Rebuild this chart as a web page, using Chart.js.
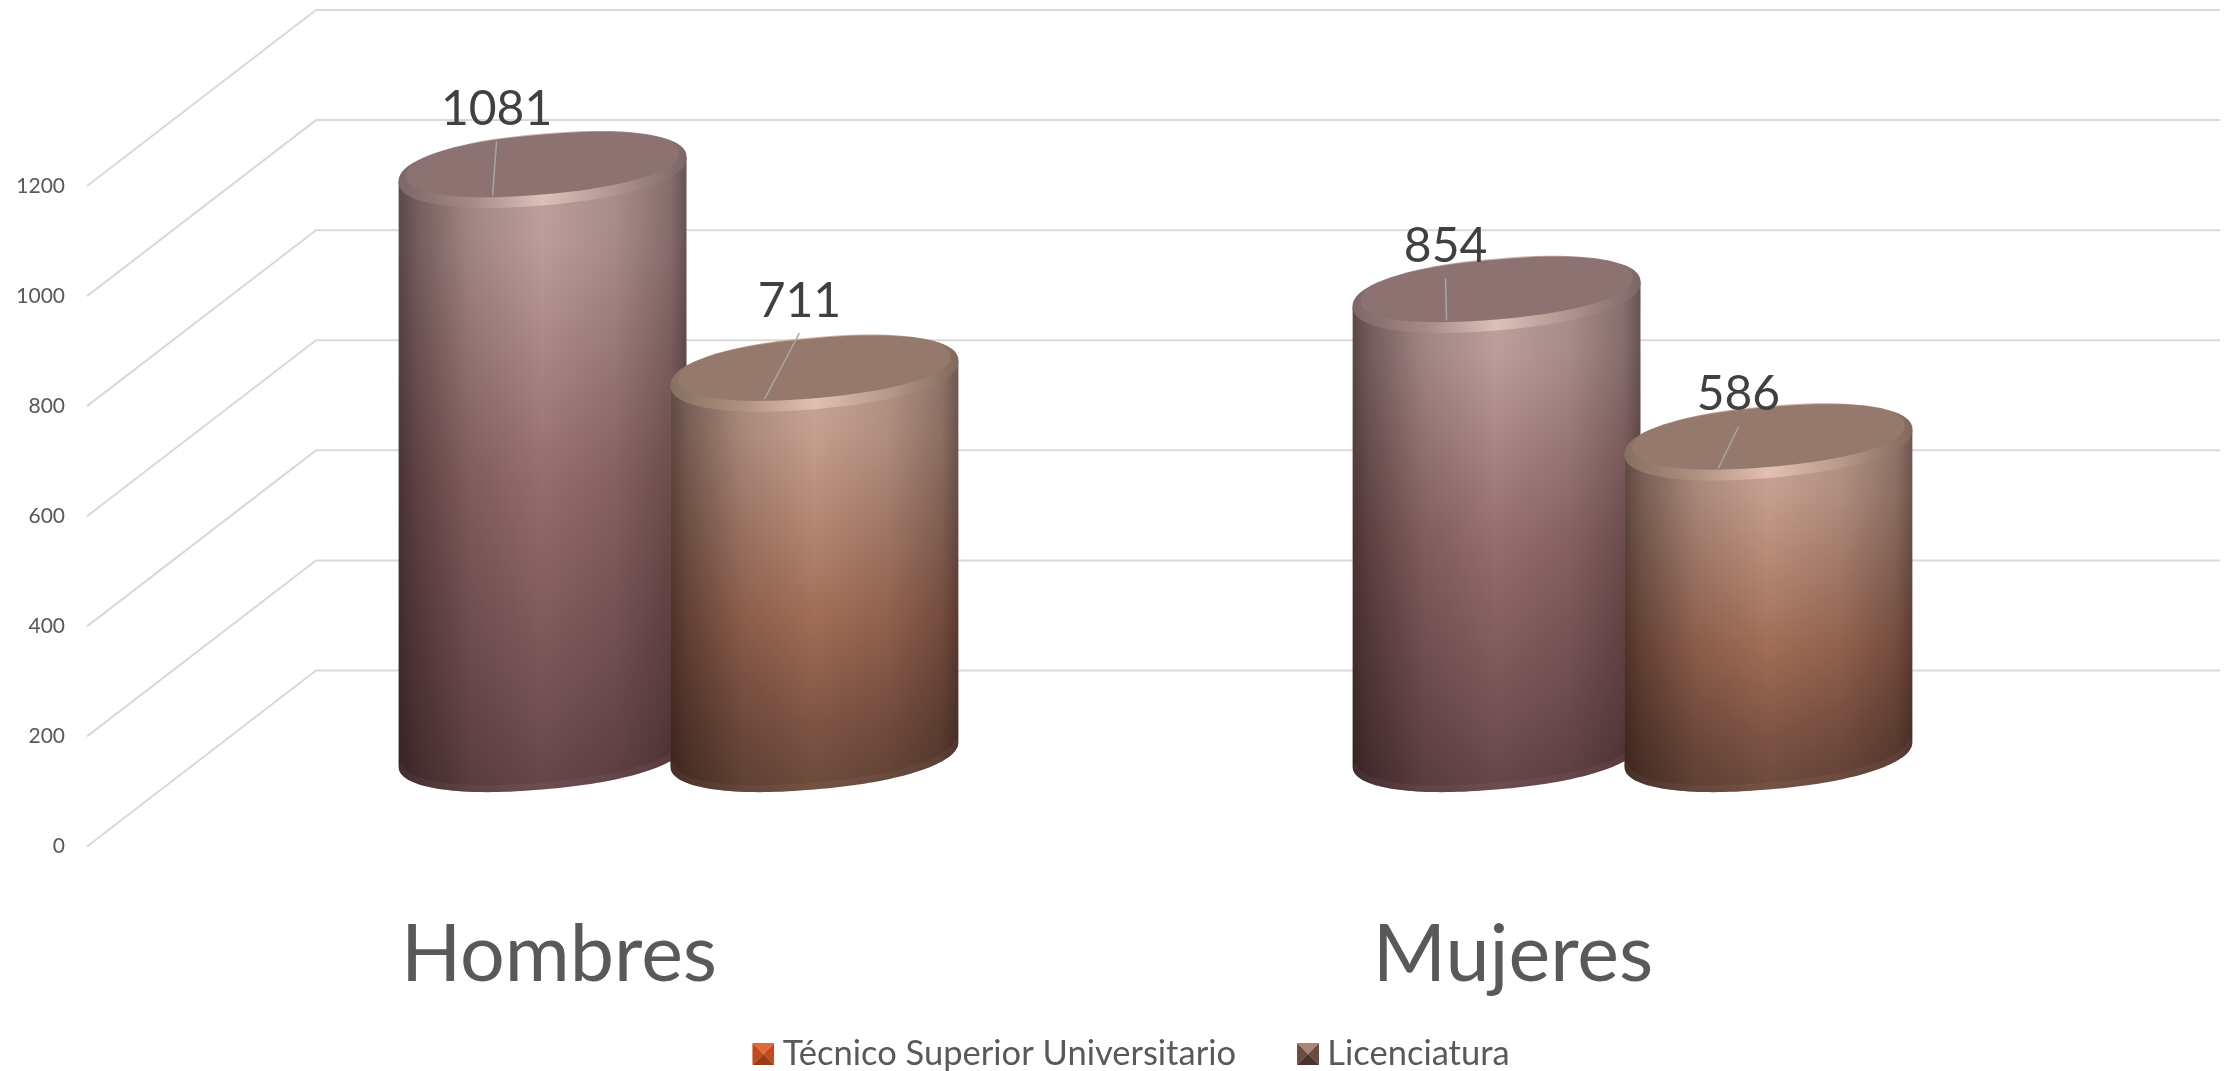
<!DOCTYPE html>
<html>
<head>
<meta charset="utf-8">
<style>
  html, body { margin: 0; padding: 0; background: #fff; }
  canvas { display: block; }
</style>
</head>
<body>
<canvas id="cylChart" width="2231" height="1071"></canvas>
<script src="https://cdn.jsdelivr.net/npm/chart.js@4/dist/chart.umd.min.js"></script>
<script>
// Data
const categories = ['Hombres', 'Mujeres'];
const seriesNames = ['Técnico Superior Universitario', 'Licenciatura'];
const tecnicoValues = [1081, 854];
const licenciaturaValues = [711, 586];
const axisMax = 1200;
const axisStep = 200;

// How far the back wall sits from the front plane
const depthX = 229;
const depthY = -176;
const wallTrim = 4;

// Cylinder shape
const capTilt = 0.085;
const capHeight = 36;
const capRoundness = 2.2;
const topInset = 6;

const cylinderLooks = [
  {
    body: [[0, '#bda09e'], [0.12, '#bb9c9a'], [0.5, '#966c6d'], [0.8, '#7a5558'], [1, '#654549']],
    face: '#8c7372',
    rim: ['#7d6665', '#a58987', '#dcc0b9', '#b0948f', '#7b6664']
  },
  {
    body: [[0, '#c9a796'], [0.15, '#c59f8d'], [0.6, '#a06c55'], [0.85, '#7d5443'], [1, '#6c4a3b']],
    face: '#95796d',
    rim: ['#85705f', '#b0917f', '#e2c0b1', '#b79a8a', '#80695b']
  }
];

// Label position against the cylinder centre, per series then per category
const labelShift = [
  [[-46, -60], [-51, -48]],
  [[-15, -72], [-30, -47]]
];
const leaderFoot = [-50, 26];

function makeSwatch(top, side, bottom) {
  const c = document.createElement('canvas');
  c.width = 74;
  c.height = 22;
  const g = c.getContext('2d');
  const x = 52, s = 22;
  const tri = function(color, pts) {
    g.fillStyle = color;
    g.beginPath();
    g.moveTo(x + pts[0][0], pts[0][1]);
    g.lineTo(x + pts[1][0], pts[1][1]);
    g.lineTo(x + pts[2][0], pts[2][1]);
    g.closePath();
    g.fill();
  };
  tri(side, [[0, 0], [s / 2, s / 2], [0, s]]);
  tri(side, [[s, 0], [s / 2, s / 2], [s, s]]);
  tri(top, [[0, 0], [s, 0], [s / 2, s / 2]]);
  tri(bottom, [[0, s], [s, s], [s / 2, s / 2]]);
  return c;
}

const swatches = [
  makeSwatch('#df6a38', '#c24a1b', '#9a3c14'),
  makeSwatch('#a98678', '#6b4b3f', '#4a332b')
];

// adds a tilted, slightly squared-off cap outline to the current path
function addCap(ctx, cx, cy, a, b, from, to) {
  const steps = 80;
  const p = 2 / capRoundness;
  for (let i = 0; i <= steps; i++) {
    const t = from + (to - from) * i / steps;
    const c = Math.cos(t), s = Math.sin(t);
    const x = a * Math.sign(c) * Math.pow(Math.abs(c), p);
    const y = b * Math.sign(s) * Math.pow(Math.abs(s), p);
    ctx.lineTo(cx + x, cy + y - capTilt * x);
  }
}

function fillCap(ctx, cx, cy, a, b, color) {
  ctx.beginPath();
  addCap(ctx, cx, cy, a, b, 0, Math.PI * 2);
  ctx.closePath();
  ctx.fillStyle = color;
  ctx.fill();
}

function drawCylinder(ctx, cx, topY, baseY, a, look) {
  const tilt = capTilt * a;

  ctx.save();
  ctx.beginPath();
  ctx.moveTo(cx - a, topY + tilt);
  addCap(ctx, cx, baseY, a, capHeight, Math.PI, 0);
  ctx.lineTo(cx + a, topY - tilt);
  ctx.closePath();
  ctx.clip();

  // body colour runs down the height
  const down = ctx.createLinearGradient(0, topY, 0, baseY + capHeight);
  look.body.forEach(function(stop) { down.addColorStop(stop[0], stop[1]); });
  ctx.fillStyle = down;
  ctx.fillRect(cx - a, topY - capHeight, a * 2, baseY - topY + capHeight * 3);

  // round it off towards the sides
  const across = ctx.createLinearGradient(cx - a, 0, cx + a, 0);
  across.addColorStop(0, 'rgba(20,8,8,0.58)');
  across.addColorStop(0.06, 'rgba(20,8,8,0.44)');
  across.addColorStop(0.25, 'rgba(20,8,8,0.16)');
  across.addColorStop(0.5, 'rgba(20,8,8,0)');
  across.addColorStop(0.75, 'rgba(20,8,8,0.12)');
  across.addColorStop(0.94, 'rgba(20,8,8,0.32)');
  across.addColorStop(1, 'rgba(20,8,8,0.5)');
  ctx.fillStyle = across;
  ctx.fillRect(cx - a, topY - capHeight, a * 2, baseY - topY + capHeight * 3);

  // lighter edge along the foot
  ctx.beginPath();
  addCap(ctx, cx, baseY - 2, a, capHeight, Math.PI, 0);
  ctx.strokeStyle = 'rgba(255,225,215,0.05)';
  ctx.lineWidth = 10;
  ctx.stroke();
  ctx.restore();

  // top cap with its bevel
  const rim = ctx.createLinearGradient(cx - a, 0, cx + a, 0);
  look.rim.forEach(function(color, i) { rim.addColorStop(i / (look.rim.length - 1), color); });
  fillCap(ctx, cx, topY, a, capHeight, rim);
  fillCap(ctx, cx, topY - 5, a - 8, capHeight - 6, look.face);
}

const cylinderPlugin = {
  id: 'cylinders',
  beforeDatasetsDraw(chart) {
    const ctx = chart.ctx;
    const area = chart.chartArea;
    const yScale = chart.scales.y;

    // side wall and back wall lines
    ctx.save();
    ctx.strokeStyle = '#d9d9d9';
    ctx.lineWidth = 2;
    yScale.ticks.forEach(function(tick) {
      const py = yScale.getPixelForValue(tick.value);
      ctx.beginPath();
      ctx.moveTo(area.left, py);
      ctx.lineTo(area.left + depthX, py + depthY);
      ctx.lineTo(area.right + depthX - wallTrim, py + depthY);
      ctx.stroke();
    });
    ctx.restore();

    chart.data.datasets.forEach(function(ds, d) {
      chart.getDatasetMeta(d).data.forEach(function(bar) {
        drawCylinder(ctx, bar.x + depthX / 2, bar.y + depthY / 2 + topInset, bar.base + depthY / 2 - 5, bar.width / 2, cylinderLooks[d]);
      });
    });

    // value labels with their leader lines
    chart.data.datasets.forEach(function(ds, d) {
      chart.getDatasetMeta(d).data.forEach(function(bar, i) {
        const cx = bar.x + depthX / 2;
        const cy = bar.y + depthY / 2 + topInset;
        const lx = cx + labelShift[d][i][0];
        const ly = cy + labelShift[d][i][1];
        ctx.strokeStyle = '#a6a6a6';
        ctx.lineWidth = 1.5;
        ctx.beginPath();
        ctx.moveTo(lx, ly + 32);
        ctx.lineTo(cx + leaderFoot[0], cy + leaderFoot[1]);
        ctx.stroke();
        ctx.fillStyle = '#404040';
        ctx.font = '48px Lato';
        ctx.textAlign = 'center';
        ctx.textBaseline = 'middle';
        ctx.fillText(ds.data[i], lx, ly);
      });
    });

    return false;
  }
};

new Chart(document.getElementById('cylChart').getContext('2d'), {
  type: 'bar',
  data: {
    labels: categories,
    datasets: [
      { label: seriesNames[0], data: tecnicoValues, backgroundColor: '#966c6d' },
      { label: seriesNames[1], data: licenciaturaValues, backgroundColor: '#a06c55' }
    ]
  },
  options: {
    responsive: false,
    animation: false,
    categoryPercentage: 0.57,
    barPercentage: 1.06,
    layout: { padding: { top: 186, right: 12, left: 0, bottom: -10 } },
    scales: {
      x: {
        grid: { display: false },
        border: { display: false },
        ticks: {
          color: '#595959',
          font: { family: 'Lato', size: 79 },
          padding: 54,
          labelOffset: -5,
          maxRotation: 0
        },
        afterFit(scale) { scale.height = 172; }
      },
      y: {
        min: 0,
        max: axisMax,
        grid: { display: false },
        border: { display: false },
        ticks: {
          stepSize: axisStep,
          color: '#595959',
          font: { family: 'Lato', size: 21 },
          padding: 14,
          callback: function(value) { return String(value); }
        },
        afterFit(scale) { scale.width = 87; }
      },
      spare: {
        position: 'right',
        grid: { display: false },
        border: { display: false },
        ticks: { display: false },
        afterFit(scale) { scale.width = 224; }
      }
    },
    plugins: {
      tooltip: { enabled: false },
      legend: {
        position: 'bottom',
        labels: {
          color: '#595959',
          font: { family: 'Lato', size: 34.5 },
          padding: 18,
          usePointStyle: true,
          pointStyleWidth: 56,
          generateLabels(chart) {
            return chart.data.datasets.map(function(ds, i) {
              return { text: ds.label, pointStyle: swatches[i], datasetIndex: i, fontColor: '#595959', lineWidth: 0 };
            });
          }
        }
      }
    }
  },
  plugins: [cylinderPlugin]
});
</script>
</body>
</html>
